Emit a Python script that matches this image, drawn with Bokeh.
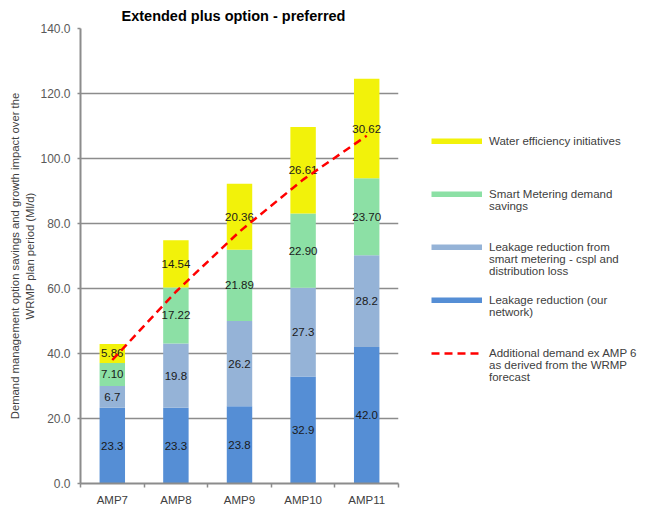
from bokeh.plotting import figure
from bokeh.models import Legend, LegendItem, FixedTicker, PrintfTickFormatter, Range1d
from bokeh.core.properties import value
from bokeh.embed import file_html
from bokeh.resources import INLINE

# ---- data ----
categories = ["AMP7", "AMP8", "AMP9", "AMP10", "AMP11"]
leak_network = [23.3, 23.3, 23.8, 32.9, 42.0]
leak_smart = [6.7, 19.8, 26.2, 27.3, 28.2]
smart_demand = [7.10, 17.22, 21.89, 22.90, 23.70]
water_eff = [5.86, 14.54, 20.36, 26.61, 30.62]
additional_demand = [38.0, 59.0, 77.5, 93.5, 107.0]
y_ticks = [0, 20, 40, 60, 80, 100, 120, 140]

series = [
    ("Leakage reduction (our\nnetwork)", leak_network, "#558ED5", "%.1f"),
    ("Leakage reduction from\nsmart metering - cspl and\ndistribution loss", leak_smart, "#95B3D7", "%.1f"),
    ("Smart Metering demand\nsavings", smart_demand, "#8CE0A5", "%.2f"),
    ("Water efficiency initiatives", water_eff, "#F2F20A", "%.2f"),
]
line_label = "Additional demand ex AMP 6\nas derived from the WRMP\nforecast"

FONT = "Liberation Sans"
GRAY = "#8c8c8c"

xs = [i + 1 for i in range(len(categories))]


def legend_text(label, first=False):
    # pad with blank lines so the key sits beside the first line of text
    n = label.count("\n") + 1
    if first:
        return "\n\n" + label + "\n\u00a0\n\u00a0"
    return "\n" * (n - 1) + label


p = figure(frame_width=318, frame_height=455, output_backend="svg", toolbar_location=None,
           x_range=Range1d(0.5, len(categories) + 0.5), y_range=Range1d(0, 140),
           min_border_left=0, min_border_right=0, min_border_top=0, min_border_bottom=0)
p.margin = (0, 0, 0, 6)
p.outline_line_color = None
p.background_fill_color = "white"
p.border_fill_color = "white"

p.title.text = "Extended plus option - preferred"
p.title.align = "left"
p.title.offset = 41
p.title.text_font = FONT
p.title.text_font_size = "14.5px"
p.title.text_font_style = "bold"
p.title.text_color = "#000000"

# y axis
yax = p.yaxis[0]
yax.ticker = FixedTicker(ticks=y_ticks)
yax.formatter = PrintfTickFormatter(format="%.1f")
yax.axis_line_color = GRAY
yax.axis_line_width = 2
yax.major_tick_line_color = GRAY
yax.major_tick_line_width = 1.5
yax.major_tick_in = 0
yax.major_tick_out = 3
yax.minor_tick_line_color = None
yax.major_label_text_font = FONT
yax.major_label_text_font_size = "12px"
yax.major_label_text_color = "#595959"
yax.major_label_standoff = 7
yax.axis_label = "Demand management option savings and growth impact over the\nWRMP plan period (Ml/d)"
yax.axis_label_text_font = FONT
yax.axis_label_text_font_size = "11.3px"
yax.axis_label_text_font_style = "normal"
yax.axis_label_text_color = "#404040"
yax.axis_label_text_line_height = 1.25
yax.axis_label_standoff = 1

# x axis
xax = p.xaxis[0]
xax.ticker = FixedTicker(ticks=xs, minor_ticks=[x - 0.5 for x in xs] + [xs[-1] + 0.5])
xax.major_label_overrides = {x: c for x, c in zip(xs, categories)}
xax.axis_line_color = GRAY
xax.axis_line_width = 2
xax.major_tick_line_color = None
xax.major_tick_in = 0
xax.major_tick_out = 0
xax.minor_tick_line_color = GRAY
xax.minor_tick_line_width = 1.5
xax.minor_tick_in = 0
xax.minor_tick_out = 4
xax.major_label_text_font = FONT
xax.major_label_text_font_size = "11.5px"
xax.major_label_text_color = "#404040"
xax.major_label_standoff = 6

p.xgrid.grid_line_color = None
p.ygrid.ticker = FixedTicker(ticks=y_ticks)
p.ygrid.grid_line_color = GRAY
p.ygrid.grid_line_width = 1.5

# stacked bars
bottoms = [0.0] * len(categories)
legend_proxies = {}
for name, vals, color, fmt in series:
    tops = [b + v for b, v in zip(bottoms, vals)]
    p.vbar(x=xs, bottom=bottoms, top=tops, width=0.4, fill_color=color, line_color=None)
    # legend key drawn as a thick bar-coloured stroke (single point: invisible in plot)
    legend_proxies[name] = p.line(x=xs[:1], y=tops[:1], line_color=color, line_width=6)
    mids = [b + v / 2 for b, v in zip(bottoms, vals)]
    p.text(x=xs, y=mids, text=[fmt % v for v in vals], text_align="center",
           text_baseline="middle", text_font=value(FONT), text_font_size="11.5px",
           text_color="#1a1a1a")
    bottoms = tops

lr = p.line(x=xs, y=additional_demand, line_color="#FF0000", line_width=2.5, line_dash="8 5")

ordered = [name for name, _, _, _ in reversed(series)]
items = [LegendItem(label=legend_text(name, first=(i == 0)), renderers=[legend_proxies[name]])
         for i, name in enumerate(ordered)]
items.append(LegendItem(label=legend_text(line_label), renderers=[lr]))
legend = Legend(items=items, location=(33, 100), glyph_width=51, glyph_height=6,
                label_standoff=7, spacing=5, padding=0, margin=0,
                border_line_color=None, background_fill_alpha=0,
                label_text_font=FONT, label_text_font_size="11.5px",
                label_text_color="#404040")
p.add_layout(legend, "right")
p.min_border_right = 243

open("out.html", "w").write(file_html(p, INLINE))
